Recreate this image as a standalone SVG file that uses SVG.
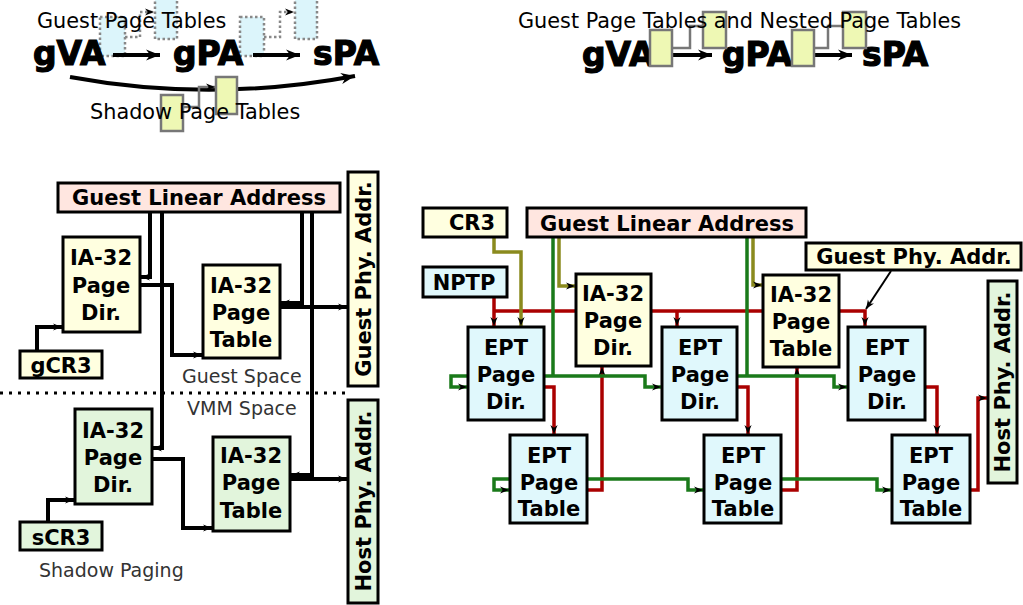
<svg xmlns="http://www.w3.org/2000/svg" width="1023" height="605" viewBox="0 0 1023 605">
<style>
text{font-family:"DejaVu Sans","Liberation Sans",sans-serif}
.b{font-weight:bold;font-size:21px;text-anchor:middle}
.big{font-weight:bold;font-size:33px;stroke:#000;stroke-width:1.2}
.t{font-size:20.8px}
.sp{font-size:19px;fill:#333}
.box{stroke:#000;stroke-width:3}
.y{fill:#ffffe0}.p{fill:#ffe6e0}.bl{fill:#e0f8fc}.g{fill:#e2f5dc}
.c{fill:none;stroke-width:4;stroke:#000}
.r{fill:none;stroke:#aa0000;stroke-width:3.5}
.gr{fill:none;stroke:#1a7a1a;stroke-width:3.5}
.o{fill:none;stroke:#8a8a1e;stroke-width:3.5}
.dot{fill:#dcf5fb;stroke:#888;stroke-width:2.5;stroke-dasharray:2.5,2.5}
.yg{fill:#eef8b4;stroke:#777;stroke-width:2.5}
.gl{fill:none;stroke:#777;stroke-width:2.5}
</style>
<defs>
<marker id="a" viewBox="0 0 10 10" refX="10" refY="5" markerWidth="9" markerHeight="9" markerUnits="userSpaceOnUse" orient="auto"><path d="M0,1 L10,5 L0,9 L3,5 z" fill="#000"/></marker>
<marker id="A" viewBox="0 0 10 10" refX="10" refY="5" markerWidth="16" markerHeight="14" markerUnits="userSpaceOnUse" orient="auto"><path d="M0,1 L10,5 L0,9 L3,5 z" fill="#000"/></marker>
</defs>
<rect width="1023" height="605" fill="#fff"/>

<g id="top-left">
<rect class="dot" x="100" y="17" width="25" height="39"/>
<rect class="dot" x="155" y="-2" width="22" height="41"/>
<rect class="dot" x="240" y="17" width="24" height="39"/>
<rect class="dot" x="295" y="-2" width="22" height="41"/>
<path d="M125,37 H140 V12 H154" fill="none" stroke="#888" stroke-width="2.5" stroke-dasharray="2.5,2.5" marker-end="url(#a)"/>
<path d="M264,37 H280 V12 H294" fill="none" stroke="#888" stroke-width="2.5" stroke-dasharray="2.5,2.5" marker-end="url(#a)"/>
<text class="t" x="37" y="28" font-size="20.7">Guest Page Tables</text>
<text class="big" x="33" y="65">gVA</text>
<text class="big" x="173" y="65">gPA</text>
<text class="big" x="313" y="65">sPA</text>
<path class="c" d="M113,55 H160" marker-end="url(#A)"/>
<path class="c" d="M253,55 H300" marker-end="url(#A)"/>
<path class="c" d="M70,77 Q211,103 355,76" marker-end="url(#A)"/>
<path class="gl" d="M183,107 H199 V87 H215" marker-end="url(#a)"/>
<rect class="yg" x="161" y="95" width="22" height="36"/>
<rect class="yg" x="216" y="77" width="21" height="37"/>
<text class="t" x="90" y="119" font-size="21">Shadow Page Tables</text>
</g>

<g id="top-right">
<text class="big" x="582" y="66">gVA</text>
<text class="big" x="722" y="66">gPA</text>
<text class="big" x="862" y="66">sPA</text>
<path class="c" d="M672,55 H712" marker-end="url(#A)"/>
<path class="c" d="M813,55 H852" marker-end="url(#A)"/>
<path class="gl" d="M672,48 H690 V26 H703"/>
<path class="gl" d="M813,48 H828 V26 H843"/>
<rect class="yg" x="650" y="30" width="22" height="36"/>
<rect class="yg" x="703" y="12" width="23" height="36"/>
<rect class="yg" x="792" y="30" width="22" height="36"/>
<rect class="yg" x="843" y="12" width="23" height="36"/>
<text class="t" x="518" y="28">Guest Page Tables and Nested Page Tables</text>
</g>

<g id="connectors">
<path class="c" d="M150,212 V277 H141" marker-end="url(#a)"/>
<path class="c" d="M162,212 V448 H153" marker-end="url(#a)"/>
<path class="c" d="M302,212 V303 H281" marker-end="url(#a)"/>
<path class="c" d="M312,212 V475 H291" marker-end="url(#a)"/>
<path class="c" d="M37,351 V327 H62" marker-end="url(#a)"/>
<path class="c" d="M140,285 H172 V355 H202" marker-end="url(#a)"/>
<path class="c" d="M280,307 H347" marker-end="url(#a)"/>
<path class="c" d="M48,522 V500 H74" marker-end="url(#a)"/>
<path class="c" d="M152,459 H183 V528 H212" marker-end="url(#a)"/>
<path class="c" d="M290,479 H347" marker-end="url(#a)"/>

<path class="r" d="M494,311 H865 V326" marker-end="url(#a)"/>
<path class="r" d="M494,297 V326" marker-end="url(#a)"/>
<path class="r" d="M677,311 V326" marker-end="url(#a)"/>
<path class="r" d="M545,387 H554 V434" marker-end="url(#a)"/>
<path class="r" d="M738,387 H748 V434" marker-end="url(#a)"/>
<path class="r" d="M926,387 H937 V434" marker-end="url(#a)"/>
<path class="r" d="M588,490 H602 V367" marker-end="url(#a)"/>
<path class="r" d="M782,490 H797 V368" marker-end="url(#a)"/>
<path class="r" d="M971,490 H978 V398 H987" marker-end="url(#a)"/>
<path class="o" d="M494,237 V252 H521 V326" marker-end="url(#a)"/>
<path class="o" d="M559,237 V286 H575" marker-end="url(#a)"/>
<path class="o" d="M753,237 V285 H762" marker-end="url(#a)"/>
<path class="gr" d="M553,237 V376"/>
<path class="gr" d="M747,237 V376"/>
<path class="gr" d="M545,376 H645 V387 H661" marker-end="url(#a)"/>
<path class="gr" d="M738,376 H834 V387 H847" marker-end="url(#a)"/>
<path class="gr" d="M468,376 H451 V387 H467" marker-end="url(#a)"/>
<path class="gr" d="M510,479 H494 V490 H509" marker-end="url(#a)"/>
<path class="gr" d="M588,479 H688 V490 H703" marker-end="url(#a)"/>
<path class="gr" d="M782,479 H877 V490 H891" marker-end="url(#a)"/>
<path d="M891,271 L866,309" fill="none" stroke="#000" stroke-width="2" marker-end="url(#a)"/>
</g>

<line x1="0" y1="393" x2="346" y2="393" stroke="#000" stroke-width="3" stroke-dasharray="3,6"/>
<text class="sp" x="182" y="383">Guest Space</text>
<text class="sp" x="187" y="415">VMM Space</text>
<text class="sp" x="39" y="577">Shadow Paging</text>

<g id="gla-left"><rect class="box p" x="58" y="183" width="282" height="29"/><text class="b" x="199" y="205">Guest Linear Address</text></g>
<g id="gpd-left"><rect class="box y" x="63" y="237" width="77" height="95"/><text class="b" x="101" y="265">IA-32</text><text class="b" x="101" y="293">Page</text><text class="b" x="101" y="320">Dir.</text></g>
<g id="gpt-left"><rect class="box y" x="203" y="265" width="77" height="93"/><text class="b" x="241" y="293">IA-32</text><text class="b" x="241" y="320">Page</text><text class="b" x="241" y="347">Table</text></g>
<g id="gcr3"><rect class="box y" x="20" y="351" width="82" height="27"/><text class="b" x="61" y="373">gCR3</text></g>
<g id="gpa-left"><rect class="box y" x="348" y="172" width="30" height="214"/><text class="b" transform="translate(370.5,279) rotate(-90)">Guest Phy. Addr.</text></g>
<g id="spd"><rect class="box g" x="75" y="409" width="77" height="95"/><text class="b" x="113" y="438">IA-32</text><text class="b" x="113" y="465">Page</text><text class="b" x="113" y="492">Dir.</text></g>
<g id="spt"><rect class="box g" x="213" y="437" width="77" height="94"/><text class="b" x="251" y="463">IA-32</text><text class="b" x="251" y="490">Page</text><text class="b" x="251" y="518">Table</text></g>
<g id="scr3"><rect class="box g" x="20" y="522" width="82" height="28"/><text class="b" x="61" y="545">sCR3</text></g>
<g id="hpa-left"><rect class="box g" x="348" y="400" width="30" height="203"/><text class="b" transform="translate(370.5,501) rotate(-90)">Host Phy. Addr.</text></g>

<g id="cr3"><rect class="box y" x="423" y="208" width="84" height="29"/><text class="b" x="472" y="230">CR3</text></g>
<g id="gla-right"><rect class="box p" x="527" y="208" width="279" height="29"/><text class="b" x="667" y="231">Guest Linear Address</text></g>
<g id="nptp"><rect class="box bl" x="423" y="267" width="84" height="30"/><text class="b" x="464" y="290">NPTP</text></g>
<g id="ia32pd"><rect class="box y" x="576" y="274" width="75" height="92"/><text class="b" x="613" y="301">IA-32</text><text class="b" x="613" y="328">Page</text><text class="b" x="613" y="355">Dir.</text></g>
<g id="ia32pt"><rect class="box y" x="763" y="275" width="76" height="92"/><text class="b" x="801" y="302">IA-32</text><text class="b" x="801" y="329">Page</text><text class="b" x="801" y="356">Table</text></g>
<g id="gpa-right"><rect class="box y" x="806" y="243" width="215" height="27"/><text class="b" x="914" y="264">Guest Phy. Addr.</text></g>
<g id="eptpd1"><rect class="box bl" x="468" y="327" width="76" height="93"/><text class="b" x="506" y="355">EPT</text><text class="b" x="506" y="382">Page</text><text class="b" x="506" y="409">Dir.</text></g>
<g id="eptpd2"><rect class="box bl" x="662" y="327" width="75" height="93"/><text class="b" x="700" y="355">EPT</text><text class="b" x="700" y="382">Page</text><text class="b" x="700" y="409">Dir.</text></g>
<g id="eptpd3"><rect class="box bl" x="848" y="327" width="77" height="93"/><text class="b" x="887" y="355">EPT</text><text class="b" x="887" y="382">Page</text><text class="b" x="887" y="409">Dir.</text></g>
<g id="eptpt1"><rect class="box bl" x="510" y="435" width="77" height="88"/><text class="b" x="549" y="463">EPT</text><text class="b" x="549" y="490">Page</text><text class="b" x="549" y="516">Table</text></g>
<g id="eptpt2"><rect class="box bl" x="704" y="435" width="77" height="88"/><text class="b" x="743" y="463">EPT</text><text class="b" x="743" y="490">Page</text><text class="b" x="743" y="516">Table</text></g>
<g id="eptpt3"><rect class="box bl" x="892" y="435" width="78" height="88"/><text class="b" x="931" y="463">EPT</text><text class="b" x="931" y="490">Page</text><text class="b" x="931" y="516">Table</text></g>
<g id="hpa-right"><rect class="box g" x="988" y="281" width="29" height="202"/><text class="b" transform="translate(1010,382) rotate(-90)">Host Phy. Addr.</text></g>
</svg>
